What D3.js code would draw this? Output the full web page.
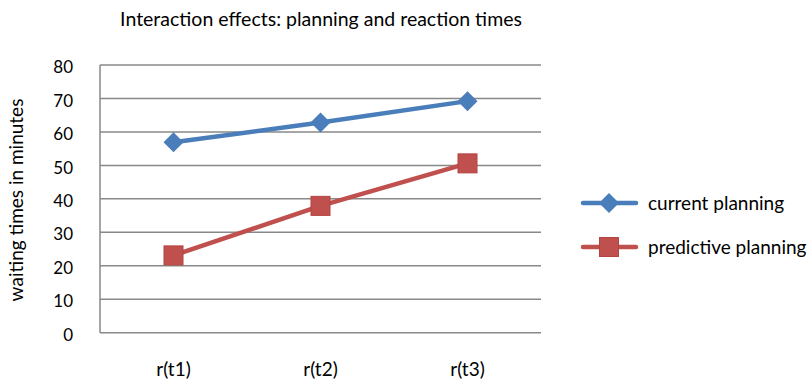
<!DOCTYPE html>
<html><head><meta charset="utf-8">
<script src="https://cdn.jsdelivr.net/npm/d3@7"></script>
<style>body{margin:0;background:#fff}text{font-family:Lato,"Open Sans",sans-serif;fill:#000}</style>
</head><body><svg id="c" width="812" height="382"></svg>
<script>
const categories = ["r(t1)", "r(t2)", "r(t3)"];
const currentPlanning = [56.9, 62.8, 69.2];
const predictivePlanning = [23.1, 37.9, 50.6];
const yTicks = [0, 10, 20, 30, 40, 50, 60, 70, 80];
const seriesNames = ["current planning", "predictive planning"];

const svg = d3.select("#c");
const L = 100, R = 541, T = 65, B = 332.7;
const x = d3.scaleBand().domain(categories).range([L, R]);
const y = d3.scaleLinear().domain([0, 80]).range([B, T]);

svg.append("g").selectAll("line").data(yTicks).join("line")
  .attr("x1", L).attr("x2", R).attr("y1", d => y(d)).attr("y2", d => y(d))
  .attr("stroke", "#888").attr("stroke-width", 1.5);
svg.append("line").attr("x1", L).attr("x2", L).attr("y1", T).attr("y2", B)
  .attr("stroke", "#888").attr("stroke-width", 1.5);

svg.append("g").selectAll("text").data(yTicks).join("text")
  .attr("x", 73).attr("y", d => y(d)).attr("dy", "0.48em").attr("text-anchor", "end")
  .attr("font-size", 17).text(d => d);

svg.append("g").selectAll("text").data(categories).join("text")
  .attr("x", d => x(d) + x.bandwidth() / 2).attr("y", 376).attr("text-anchor", "middle")
  .attr("font-size", 19).text(d => d);

svg.append("text").attr("x", 321).attr("y", 26).attr("text-anchor", "middle")
  .attr("font-size", 19.5).text("Interaction effects: planning and reaction times");
svg.append("text").attr("transform", "translate(23,200) rotate(-90)").attr("text-anchor", "middle")
  .attr("font-size", 19).text("waiting times in minutes");

const cx = d => x(d) + x.bandwidth() / 2;
const series = [
  {name: seriesNames[0], vals: currentPlanning, color: "#4A7EBB", stroke: "#4A7EBB", shape: "diamond"},
  {name: seriesNames[1], vals: predictivePlanning, color: "#C0504D", stroke: "#B3433F", shape: "square"}
];
const line = d3.line().x((d, i) => cx(categories[i])).y(d => y(d));
function marker(g, s, px, py) {
  if (s.shape === "diamond") {
    g.append("path").attr("d", `M${px},${py-10}L${px+10},${py}L${px},${py+10}L${px-10},${py}Z`)
      .attr("fill", s.color);
  } else {
    g.append("rect").attr("x", px - 9.5).attr("y", py - 9.5).attr("width", 19).attr("height", 19)
      .attr("fill", s.color).attr("stroke", s.stroke).attr("stroke-width", 1);
  }
}
series.forEach((s, k) => {
  const g = svg.append("g");
  g.append("path").datum(s.vals).attr("d", line).attr("fill", "none")
    .attr("stroke", s.color).attr("stroke-width", 4.5).attr("stroke-linejoin", "round");
  s.vals.forEach((v, i) => marker(g, s, cx(categories[i]), y(v)));
  const ly = 203 + k * 44;
  const lg = svg.append("g");
  lg.append("line").attr("x1", 583).attr("x2", 636).attr("y1", ly).attr("y2", ly)
    .attr("stroke", s.color).attr("stroke-width", 4.5).attr("stroke-linecap", "round");
  marker(lg, s, 609, ly);
  lg.append("text").attr("x", 648).attr("y", ly).attr("dy", "0.35em").attr("font-size", 19).text(s.name);
});
</script></body></html>
